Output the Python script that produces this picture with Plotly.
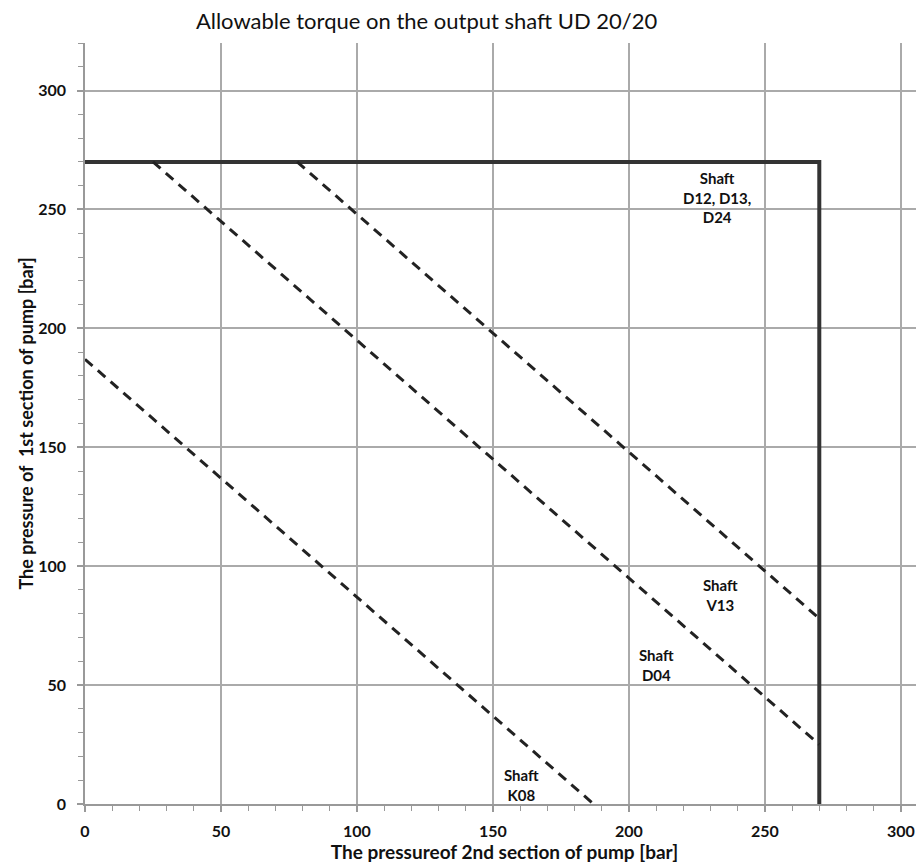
import plotly.graph_objects as go

# Data
limit_x = [0, 270, 270]
limit_y = [270, 270, 0]

k08_x = [0, 187]
k08_y = [187, 0]
d04_x = [25, 270]
d04_y = [270, 25]
v13_x = [78, 270]
v13_y = [270, 78]

labels = ["Shaft<br>D12, D13,<br>D24", "Shaft<br>V13", "Shaft<br>D04", "Shaft<br>K08"]
label_x = [232.5, 233.5, 210, 160.5]
label_y = [255, 88, 58.5, 8]

x_ticks = [0, 50, 100, 150, 200, 250, 300]
y_ticks = [0, 50, 100, 150, 200, 250, 300]

FONT = "Lato, 'Open Sans', sans-serif"

fig = go.Figure()
fig.add_trace(go.Scatter(x=limit_x, y=limit_y, mode="lines",
                         line=dict(color="#333333", width=4), hoverinfo="skip"))
for xs, ys in [(k08_x, k08_y), (d04_x, d04_y), (v13_x, v13_y)]:
    fig.add_trace(go.Scatter(x=xs, y=ys, mode="lines",
                             line=dict(color="#222222", width=3, dash="10px,7px"),
                             hoverinfo="skip"))

for t, xx, yy in zip(labels, label_x, label_y):
    fig.add_annotation(x=xx, y=yy, text=t, showarrow=False,
                       font=dict(family=FONT, size=15, color="#111111", weight="bold"),
                       align="center")

axis_common = dict(
    showgrid=True, gridcolor="#aaaaaa", gridwidth=1.5,
    showline=True, linecolor="#999999", linewidth=1.5,
    ticks="outside", ticklen=6, tickcolor="#999999", tickwidth=1.5,
    minor=dict(dtick=10, ticks="outside", ticklen=5, tickcolor="#999999", tickwidth=1.2, showgrid=False),
    zeroline=False,
    tickfont=dict(family=FONT, size=16, color="#111111", weight="bold"),
)

fig.update_xaxes(range=[0, 308.5], tickvals=x_ticks, **axis_common,
                 ticklabelstandoff=6,
                 title=dict(text="The pressureof 2nd section of pump [bar]",
                            font=dict(family=FONT, size=19, color="#111111", weight="bold"),
                            standoff=5))
fig.update_yaxes(range=[0, 320], tickvals=y_ticks, **axis_common,
                 ticklabelstandoff=8,
                 title=dict(text="The pressure of\u00a0 1st section of pump [bar]",
                            font=dict(family=FONT, size=18, color="#111111", weight="bold"),
                            standoff=0))

fig.update_layout(
    width=916, height=858,
    margin=dict(l=77, r=0, t=35, b=62),
    plot_bgcolor="white", paper_bgcolor="white",
    showlegend=False,
    title=dict(text="Allowable torque on the output shaft UD 20/20",
               x=0.457, xanchor="center", y=0.984, yanchor="middle",
               font=dict(family=FONT, size=22, color="#111111")),
)

fig.write_html("out.html")
